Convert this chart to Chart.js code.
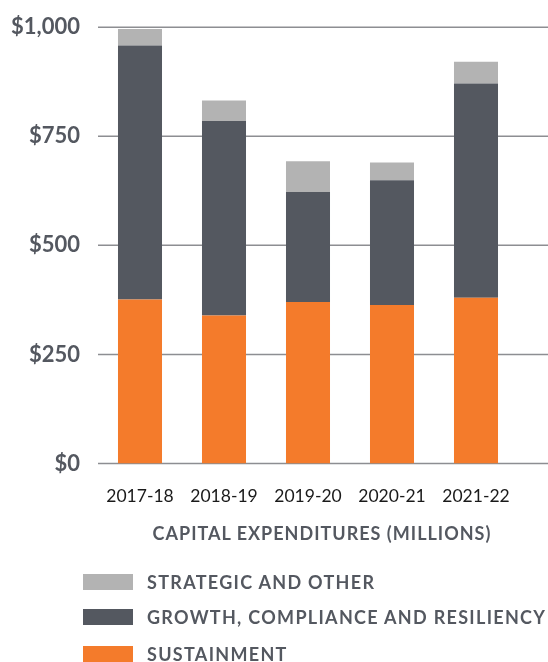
<!DOCTYPE html>
<html>
<head>
<meta charset="utf-8">
<script src="https://cdn.jsdelivr.net/npm/chart.js@4.4.1/dist/chart.umd.min.js"></script>
<style>
  html, body { margin: 0; padding: 0; background: #fff; }
  #wrap { position: relative; width: 548px; height: 662px; overflow: hidden; }
  #MyChart { position: absolute; left: 0; top: 0; }
  #xtitle {
    position: absolute; left: 322px; top: 533px; transform: translate(-50%, -50%);
    font: bold 18px Lato, sans-serif; letter-spacing: 1px; color: #545860; white-space: nowrap;
  }
  #legend { position: absolute; left: 83px; top: 0; }
  .item { position: absolute; left: 0; white-space: nowrap; transform: translateY(-50%);
    display: flex; align-items: center; }
  .box { width: 50px; height: 16px; margin-right: 14px; }
  .lbl { font: bold 18px Lato, sans-serif; letter-spacing: 1.3px; color: #545860; }
</style>
</head>
<body>
<div id="wrap">
  <canvas id="MyChart" width="548" height="662"></canvas>
  <div id="xtitle">CAPITAL EXPENDITURES (MILLIONS)</div>
  <div id="legend"></div>
</div>
<script>
const years = ["2017-18", "2018-19", "2019-20", "2020-21", "2021-22"];
const sustainment = [376, 339, 370, 363, 380];
const growth = [582, 446, 252, 286, 491];
const strategic = [38, 47, 71, 41, 50];
const yTicks = [0, 250, 500, 750, 1000];

const ink = "#545860";
// where the $1,000 and $0 lines sit on the page
const plotTop = 26.7, plotBottom = 463;

// grid lines run past the bars to the right edge
const gridLines = {
    id: "gridLines",
    beforeDatasetsDraw(chart) {
        const c = chart.ctx;
        const y = chart.scales.y;
        c.save();
        c.strokeStyle = "#8d8e92";
        c.lineWidth = 1.5;
        yTicks.forEach(v => {
            const py = y.getPixelForValue(v);
            c.beginPath();
            c.moveTo(chart.chartArea.left, py);
            c.lineTo(chart.width, py);
            c.stroke();
        });
        c.restore();
    }
};

const canvas = document.getElementById("MyChart");
const ctx = canvas.getContext("2d");

const chart = new Chart(ctx, {
    type: "bar",
    data: {
        labels: years,
        datasets: [
            { label: "SUSTAINMENT", data: sustainment, backgroundColor: "#f47b2b" },
            { label: "GROWTH, COMPLIANCE AND RESILIENCY", data: growth, backgroundColor: "#545860" },
            { label: "STRATEGIC AND OTHER", data: strategic, backgroundColor: "#b3b3b3" }
        ]
    },
    options: {
        responsive: false,
        animation: false,
        layout: { padding: { top: 20, right: 30, bottom: 140, left: 0 } },
        datasets: { bar: { categoryPercentage: 1, barPercentage: 0.524 } },
        plugins: { legend: { display: false }, tooltip: { enabled: false } },
        scales: {
            x: {
                stacked: true,
                grid: { display: false, drawTicks: false },
                border: { display: false },
                ticks: { color: "#1a1a1a", padding: 22, font: { family: "Lato", size: 17.5 } }
            },
            y: {
                stacked: true,
                min: 0,
                max: 1000,
                afterFit(scale) { scale.width = 98; },
                afterBuildTicks(scale) { scale.ticks = yTicks.map(v => ({ value: v })); },
                grid: { display: false, drawTicks: false },
                border: { display: false },
                ticks: {
                    color: ink,
                    padding: 18,
                    font: { family: "Lato", size: 22, weight: "bold" },
                    callback: v => "$" + v.toLocaleString("en-US")
                }
            }
        }
    },
    plugins: [gridLines]
});

// fit the plot height, then shift the canvas so the top line lands in place
const area = chart.chartArea;
chart.options.layout.padding.bottom += (area.bottom - area.top) - (plotBottom - plotTop);
chart.update();
canvas.style.top = (plotTop - chart.chartArea.top) + "px";

// legend, top series first
const rowsY = [582, 617, 654];
const legend = document.getElementById("legend");
chart.data.datasets.slice().reverse().forEach((ds, i) => {
    const item = document.createElement("div");
    item.className = "item";
    item.style.top = rowsY[i] + "px";
    item.innerHTML = '<div class="box" style="background:' + ds.backgroundColor + '"></div>' +
        '<span class="lbl">' + ds.label + '</span>';
    legend.appendChild(item);
});
</script>
</body>
</html>
